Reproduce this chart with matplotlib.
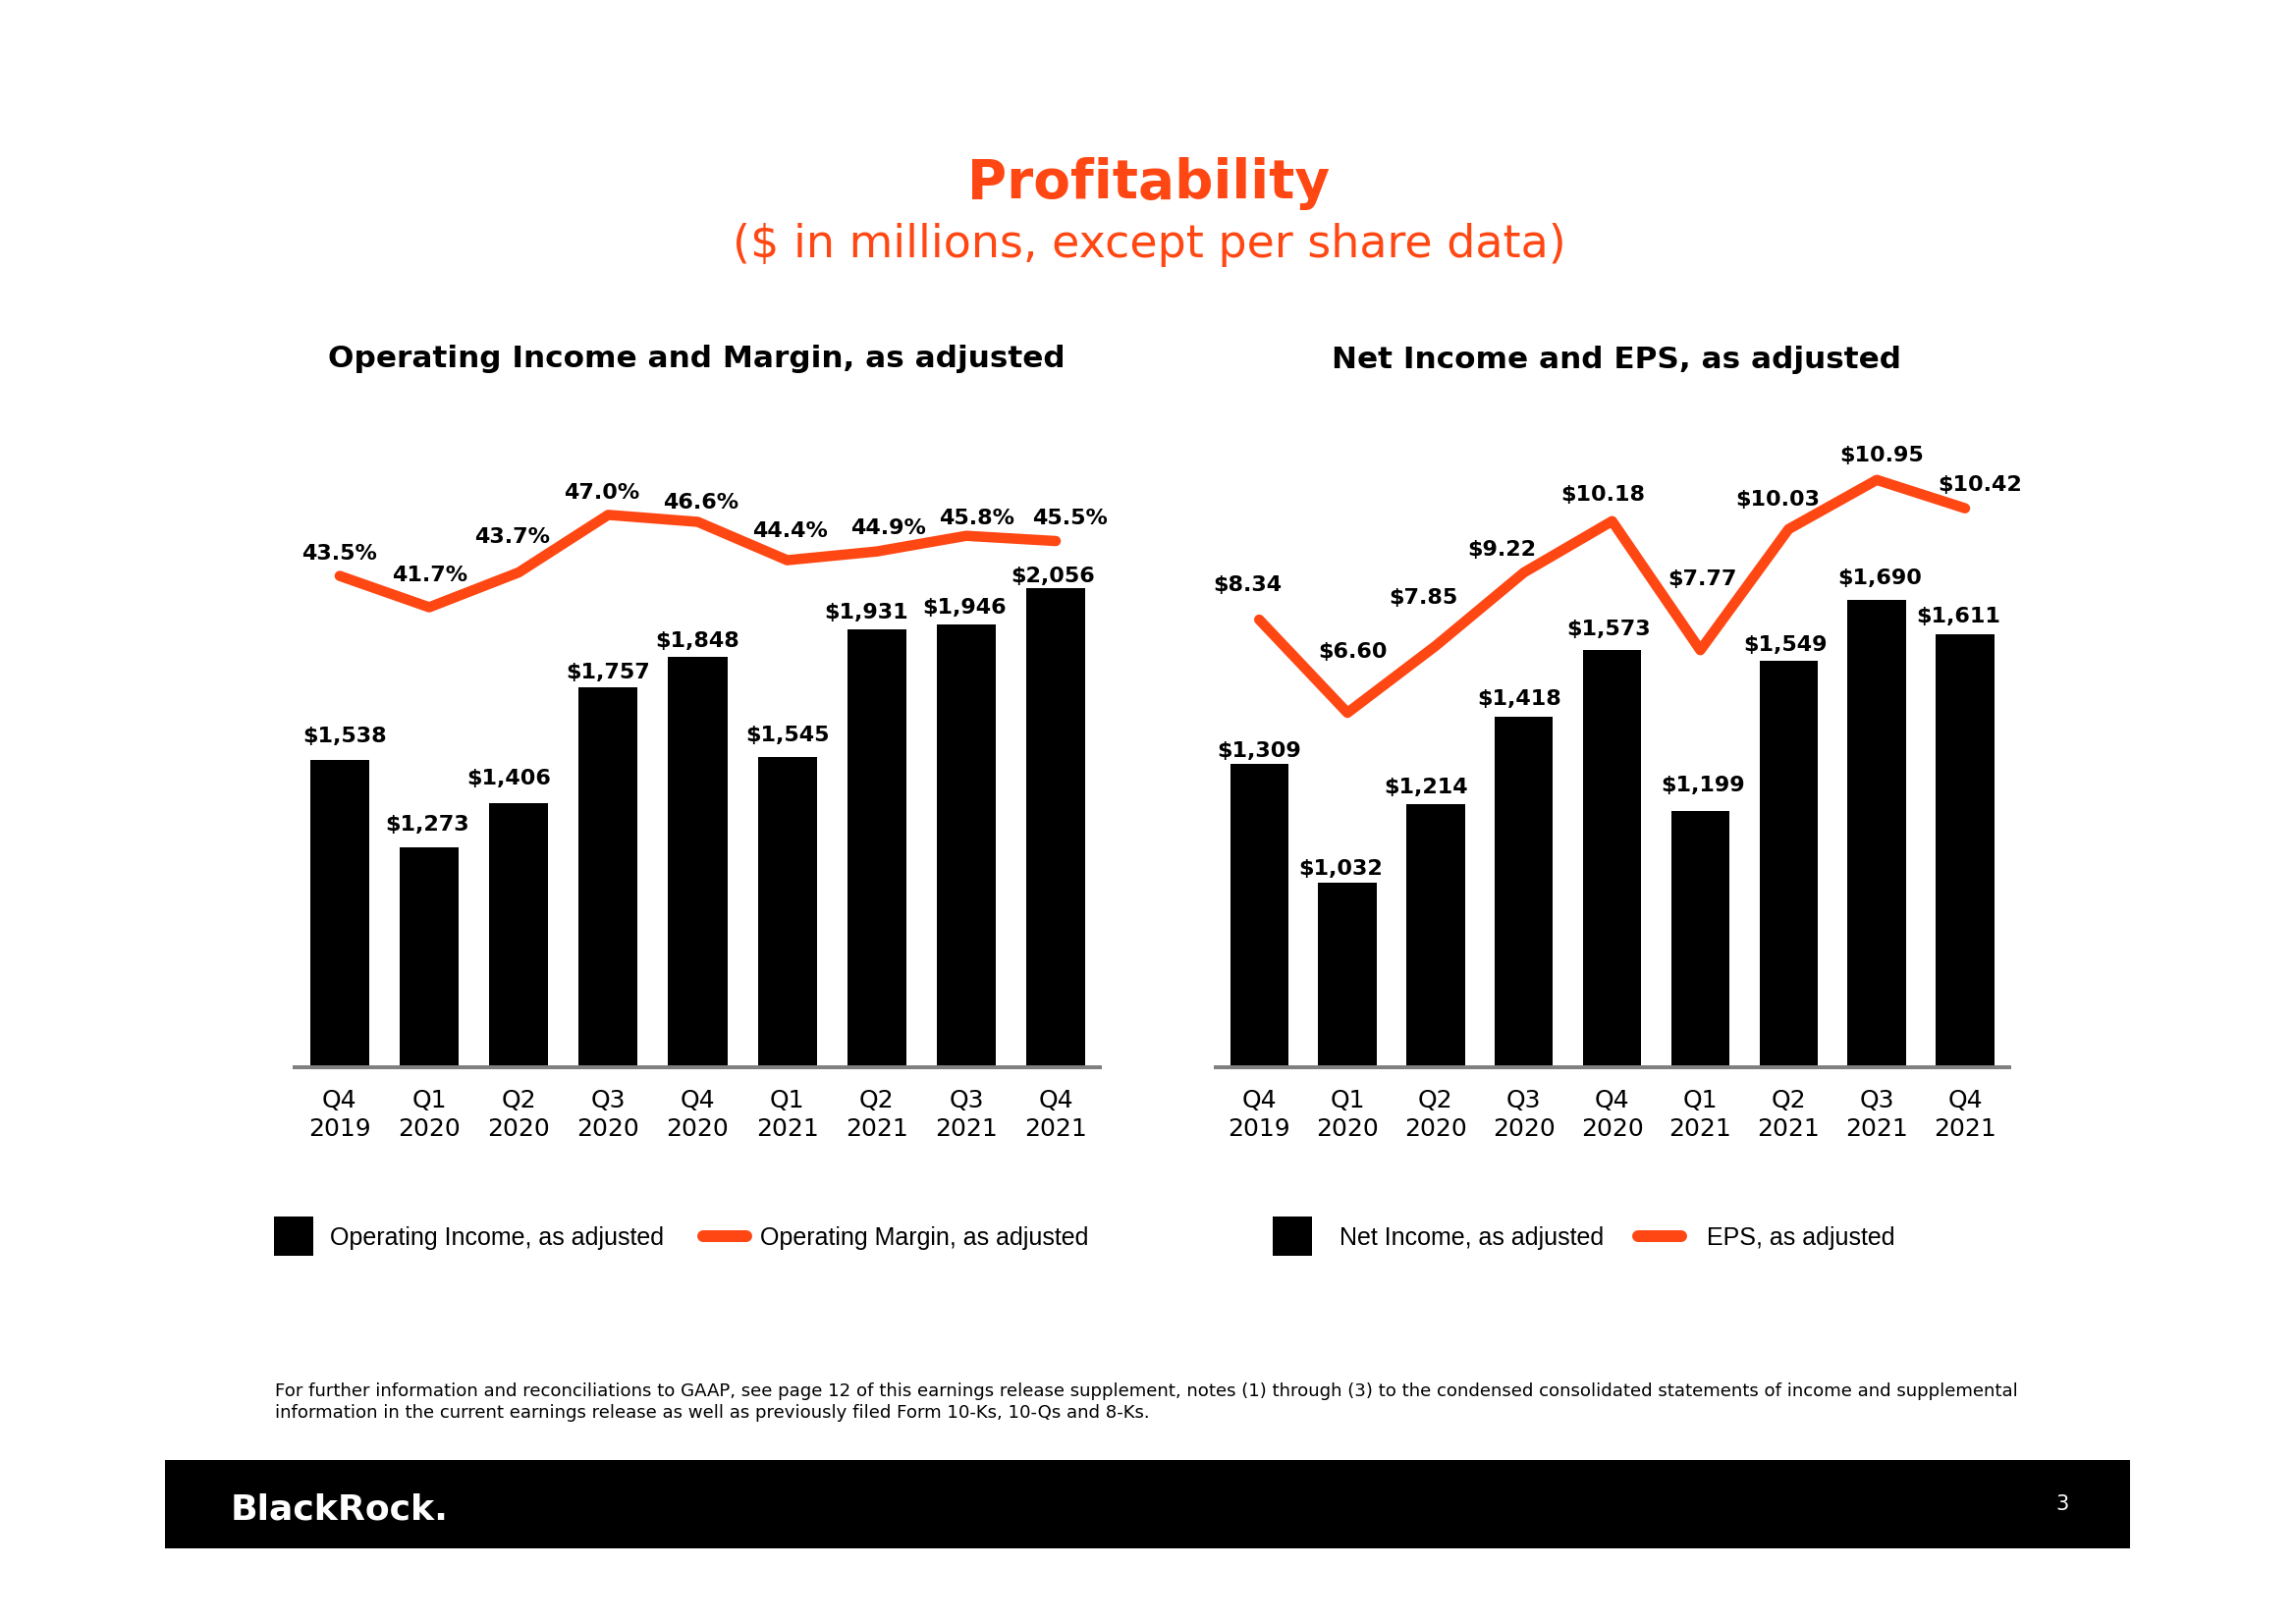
import matplotlib
matplotlib.use("Agg")
import matplotlib.pyplot as plt
from matplotlib.lines import Line2D
from matplotlib.patches import Rectangle

# ---------------- data ----------------
quarters = ["Q4\n2019", "Q1\n2020", "Q2\n2020", "Q3\n2020", "Q4\n2020",
            "Q1\n2021", "Q2\n2021", "Q3\n2021", "Q4\n2021"]
op_income = [1538, 1273, 1406, 1757, 1848, 1545, 1931, 1946, 2056]
op_margin = [43.5, 41.7, 43.7, 47.0, 46.6, 44.4, 44.9, 45.8, 45.5]
net_income = [1309, 1032, 1214, 1418, 1573, 1199, 1549, 1690, 1611]
eps = [8.34, 6.60, 7.85, 9.22, 10.18, 7.77, 10.03, 10.95, 10.42]

# label nudges (pixels: dx, dy of text baseline above the mark)
op_bar_nudge = [(5, 18), (-2, 17), (-10, 19), (0, 9), (0, 10),
                (0, 16), (-11, 11), (-2, 11), (-3, 6)]
net_bar_nudge = [(0, 7), (-7, 8), (-10, 11), (-5, 12), (-4, 15),
                 (3, 20), (-3, 10), (3, 16), (-7, 12)]
margin_label_nudge = [(0, 17), (1, 26), (-7, 30), (-7, 16), (3, 14),
                      (3, 24), (12, 18), (11, 12), (14, 17)]
eps_label_nudge = [(-12, 29), (5, 56), (-13, 43), (-23, 17), (-9, 21),
                   (2, 66), (-11, 24), (5, 19), (15, 18)]

ORANGE = "#FF4713"
GRAY = "#808080"
LABEL_SIZE = 16

W, H, DPI = 2338, 1653, 100
PT = 72.0 / DPI
fig = plt.figure(figsize=(W / DPI, H / DPI), dpi=DPI)
fig.patch.set_facecolor("white")
renderer = fig.canvas.get_renderer()


def fx(px):
    return px / W


def fy(py):
    return 1 - py / H


def fit(txt, target_px):
    bb = txt.get_window_extent(renderer=renderer)
    txt.set_fontsize(txt.get_fontsize() * target_px / bb.width)
    return txt.get_fontsize()


def panel(left, right, bars, line, bar_ylim, line_ylim, xlim, line_fmt,
          bar_nudges, line_nudges):
    top, bottom = 447, 1087
    ax = fig.add_axes([fx(left), fy(bottom), fx(right) - fx(left),
                       (bottom - top) / H])
    ax.patch.set_visible(False)
    x = list(range(len(bars)))
    ax.bar(x, bars, width=0.66, color="black", zorder=2)
    ax.set_xlim(*xlim)
    ax.set_ylim(*bar_ylim)
    for s in ["top", "left", "right"]:
        ax.spines[s].set_visible(False)
    ax.spines["bottom"].set_color(GRAY)
    ax.spines["bottom"].set_linewidth(4 * PT)
    ax.spines["bottom"].set_zorder(3)
    ax.set_yticks([])
    ax.set_xticks(x)
    ax.set_xticklabels(quarters, fontsize=18, linespacing=1.25,
                       family="DejaVu Sans")
    ax.tick_params(axis="x", length=0, pad=16)
    for i, v in enumerate(bars):
        dx, dy = bar_nudges[i]
        ax.annotate(f"${v:,}", (i, v), xytext=(dx * PT, dy * PT),
                    textcoords="offset points", ha="center", va="baseline",
                    fontsize=LABEL_SIZE, fontweight="bold")
    ax2 = ax.twinx()
    ax2.set_axis_off()
    ax2.plot(x, line, color=ORANGE, lw=10.5 * PT, solid_capstyle="round",
             solid_joinstyle="round", zorder=4)
    ax2.set_ylim(*line_ylim)
    for i, v in enumerate(line):
        dx, dy = line_nudges[i]
        ax2.annotate(line_fmt(v), (i, v), xytext=(dx * PT, dy * PT),
                     textcoords="offset points", ha="center", va="baseline",
                     fontsize=LABEL_SIZE, fontweight="bold")
    return ax


panel(299.7, 1119.7, op_income, op_margin, (610, 2505), (15.31, 51.36),
      (-0.507, 8.49), lambda v: f"{v:.1f}%", op_bar_nudge, margin_label_nudge)
panel(1237.5, 2045.7, net_income, eps, (602, 2064.7), (-0.021, 11.716),
      (-0.498, 8.498), lambda v: f"${v:.2f}", net_bar_nudge, eps_label_nudge)

# ---------------- titles ----------------
t = fig.text(fx(1170), fy(202), "Profitability", ha="center", va="baseline",
             fontsize=40, fontweight="bold", color=ORANGE)
fit(t, 368)
t = fig.text(fx(1170), fy(262), "($ in millions, except per share data)",
             ha="center", va="baseline", fontsize=32, color=ORANGE)
fit(t, 849)
t = fig.text(fx(709), fy(374), "Operating Income and Margin, as adjusted",
             ha="center", va="baseline", fontsize=21, fontweight="bold")
fit(t, 750)
t = fig.text(fx(1646), fy(375), "Net Income and EPS, as adjusted",
             ha="center", va="baseline", fontsize=21, fontweight="bold")
fit(t, 578)

# ---------------- legends ----------------
def legend(x_px, labels, textpad, colspace):
    handles = [Line2D([], [], marker="s", ms=40 * PT, mew=0, color="black",
                      linestyle="none"),
               Line2D([], [], color=ORANGE, lw=12 * PT, solid_capstyle="round")]
    fig.legend(handles, labels, loc="center left",
               bbox_to_anchor=(fx(x_px), fy(1261)), frameon=False, ncol=2,
               prop={"family": "Liberation Sans", "size": 18},
               handlelength=44 / 25, handletextpad=textpad,
               columnspacing=colspace, borderpad=0, borderaxespad=0)


legend(277, ["Operating Income, as adjusted", "Operating Margin, as adjusted"],
       0.58, 1.6)
legend(1294, ["Net Income, as adjusted", "EPS, as adjusted"], 1.04, 1.4)

# ---------------- footnote & footer ----------------
l1 = fig.text(fx(280), fy(1422),
              "For further information and reconciliations to GAAP, see page 12 "
              "of this earnings release supplement, notes (1) through (3) to the "
              "condensed consolidated statements of income and supplemental",
              ha="left", va="baseline", fontsize=12, color="black")
fs = fit(l1, 1778)
fig.text(fx(280), fy(1444),
         "information in the current earnings release as well as previously "
         "filed Form 10-Ks, 10-Qs and 8-Ks.",
         ha="left", va="baseline", fontsize=fs, color="black")

fig.add_artist(Rectangle((fx(168), fy(1577)), (2169 - 168) / W,
                         (1577 - 1487) / H, transform=fig.transFigure,
                         facecolor="black", edgecolor="none"))
t = fig.text(fx(235), fy(1547), "BlackRock.", ha="left", va="baseline",
             fontsize=26, fontweight="bold", color="white")
fit(t, 222)
fig.text(fx(2100), fy(1532), "3", ha="center", va="center", fontsize=15,
         color="white")

fig.savefig("out.png", dpi=DPI, facecolor="white")
